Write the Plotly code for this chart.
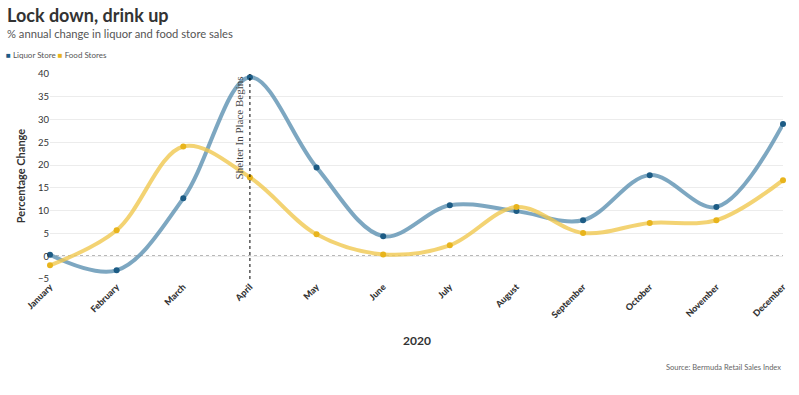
import plotly.graph_objects as go

months = ["January", "February", "March", "April", "May", "June", "July",
          "August", "September", "October", "November", "December"]
liquor = [0.3, -3.1, 12.7, 39.3, 19.5, 4.4, 11.2, 9.9, 7.9, 17.8, 10.8, 29.0]
food = [-2.0, 5.7, 24.1, 17.3, 4.8, 0.4, 2.4, 10.8, 5.1, 7.3, 7.9, 16.7]
y_ticks = [-5, 0, 5, 10, 15, 20, 25, 30, 35, 40]

FONT = "Lato"
liq_line = "rgba(93,145,178,0.8)"
liq_dot = "#1d5c85"
food_line = "rgba(240,200,80,0.8)"
food_dot = "#e8b41c"

fig = go.Figure()
fig.add_trace(go.Scatter(x=months, y=liquor, mode="lines+markers", name="Liquor Store",
                         line=dict(color=liq_line, width=4, shape="spline", smoothing=1.0),
                         marker=dict(color=liq_dot, size=6), showlegend=False, cliponaxis=False))
fig.add_trace(go.Scatter(x=months, y=food, mode="lines+markers", name="Food Stores",
                         line=dict(color=food_line, width=4, shape="spline", smoothing=1.0),
                         marker=dict(color=food_dot, size=6), showlegend=False, cliponaxis=False))

# zero line and April marker line
fig.add_hline(y=0, line=dict(color="#000", width=1, dash="dot"), layer="below")
fig.add_vline(x=3, line=dict(color="#000", width=1, dash="dot"))
fig.add_annotation(x=3, y=40, xref="x", yref="y", text="Shelter In Place Begins",
                   textangle=-90, showarrow=False, xanchor="right", yanchor="top",
                   xshift=-3, yshift=0,
                   font=dict(family="Liberation Serif", size=11, color="#444"))

fig.update_layout(
    width=799, height=395,
    margin=dict(l=50, r=16, t=74, b=116, autoexpand=False),
    paper_bgcolor="white", plot_bgcolor="white",
    font=dict(family=FONT, color="#333"),
    showlegend=False,
)
fig.add_annotation(text="<b>Lock down, drink up</b>", xref="paper", yref="paper",
                   x=-0.061, y=1.29, xanchor="left", yanchor="middle", showarrow=False,
                   font=dict(size=18, color="#333", family=FONT))
fig.add_annotation(text="% annual change in liquor and food store sales", xref="paper", yref="paper",
                   x=-0.061, y=1.2, xanchor="left", yanchor="middle", showarrow=False,
                   font=dict(size=11.2, color="#555", family=FONT))
fig.add_annotation(text=f"<span style='color:{liq_dot}'>■</span> Liquor Store "
                        f"<span style='color:{food_dot}'>■</span> Food Stores",
                   xref="paper", yref="paper",
                   x=-0.063, y=1.093, xanchor="left", yanchor="middle", showarrow=False,
                   font=dict(size=8, color="#555", family=FONT))
fig.add_annotation(text="Source: Bermuda Retail Sales Index", xref="paper", yref="paper",
                   x=1.0, y=-0.43, xanchor="right", yanchor="middle", showarrow=False,
                   font=dict(size=7.5, color="#666", family=FONT))
fig.add_annotation(text="<b>2020</b>", xref="paper", yref="paper",
                   x=0.5, y=-0.298, xanchor="center", yanchor="middle", showarrow=False,
                   font=dict(size=12, color="#333", family=FONT))
fig.add_annotation(text="<b>Percentage Change</b>", xref="paper", yref="paper",
                   x=-0.04, y=0.5, xanchor="center", yanchor="middle", showarrow=False,
                   textangle=-90, font=dict(size=11, color="#333", family=FONT))

fig.update_xaxes(type="category", range=[0, 11], showgrid=False, showline=False, zeroline=False,
                 tickangle=-45, tickfont=dict(size=9, color="#333", family="Lato Black, Lato"),
                 ticks="", automargin=False)
fig.update_yaxes(range=[-5, 40], tickvals=y_ticks, showgrid=True, gridcolor="#ececec",
                 zeroline=False, showline=False, ticks="", automargin=False,
                 tickfont=dict(size=9.5, color="#333", family=FONT))

fig.write_html("out.html", config={"displayModeBar": False},
               post_script="document.body.style.margin='0';")
